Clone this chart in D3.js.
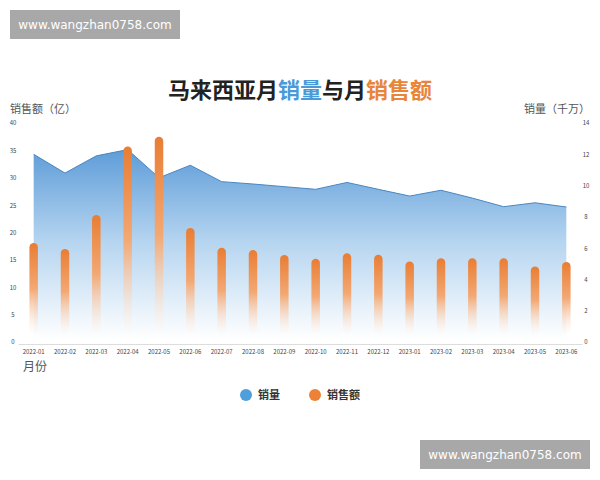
<!DOCTYPE html>
<html>
<head>
<meta charset="utf-8">
<script src="https://cdn.jsdelivr.net/npm/d3@7"></script>
<style>
  body { margin: 0; background: #fff; }
  text { font-family: "Noto Sans CJK SC", "Noto Sans", sans-serif; }
</style>
</head>
<body>
<div id="chart"></div>
<script>
// months on the x axis
const months = ["2022-01", "2022-02", "2022-03", "2022-04", "2022-05", "2022-06",
    "2022-07", "2022-08", "2022-09", "2022-10", "2022-11", "2022-12",
    "2023-01", "2023-02", "2023-03", "2023-04", "2023-05", "2023-06"];
// sales volume, 千万 (right axis)
const volume = [12.0, 10.8, 11.9, 12.3, 10.5, 11.3, 10.25, 10.1, 9.93, 9.76,
    10.2, 9.76, 9.33, 9.7, 9.2, 8.65, 8.9, 8.63];
// sales amount, 亿 (left axis)
const amount = [18.1, 17.0, 23.2, 35.7, 37.5, 20.8, 17.2, 16.8, 15.9, 15.2,
    16.2, 15.95, 14.7, 15.3, 15.3, 15.3, 13.8, 14.6];
const leftTicks = [0, 5, 10, 15, 20, 25, 30, 35, 40];
const rightTicks = [0, 2, 4, 6, 8, 10, 12, 14];

const width = 600, height = 480;
const plotTop = 123, plotBottom = 342;

let svg = d3.select("#chart")
    .append("svg")
    .attr("width", width)
    .attr("height", height);

let defs = svg.append("defs");

let areaGrad = defs.append("linearGradient")
    .attr("id", "areaGrad")
    .attr("gradientUnits", "userSpaceOnUse")
    .attr("x1", 0).attr("x2", 0)
    .attr("y1", 145).attr("y2", 340);
areaGrad.append("stop").attr("offset", 0).attr("stop-color", "#5a9ad7");
areaGrad.append("stop").attr("offset", 0.5).attr("stop-color", "#b6d5f0");
areaGrad.append("stop").attr("offset", 1).attr("stop-color", "#ffffff");

let barGrad = defs.append("linearGradient")
    .attr("id", "barGrad")
    .attr("x1", 0).attr("x2", 0)
    .attr("y1", 0).attr("y2", 1);
barGrad.append("stop").attr("offset", 0).attr("stop-color", "#e97d33");
barGrad.append("stop").attr("offset", 0.5).attr("stop-color", "#f3a873");
barGrad.append("stop").attr("offset", 1).attr("stop-color", "#fffaf6").attr("stop-opacity", 0.3);

let x = d3.scaleBand()
    .domain(months)
    .range([18, 582])
    .padding(0);

let yLeft = d3.scaleLinear()
    .domain([0, 40])
    .range([plotBottom, plotTop]);

let yRight = d3.scaleLinear()
    .domain([0, 14])
    .range([plotBottom, plotTop]);

let cx = d => x(d) + x.bandwidth() / 2;

// volume area
let area = d3.area()
    .x((d, i) => cx(months[i]))
    .y0(plotBottom)
    .y1(d => yRight(d));

svg.append("path")
    .datum(volume)
    .attr("d", area)
    .attr("fill", "url(#areaGrad)");

let line = d3.line()
    .x((d, i) => cx(months[i]))
    .y(d => yRight(d));

svg.append("path")
    .datum(volume)
    .attr("d", line)
    .attr("fill", "none")
    .attr("stroke", "#4a87c2")
    .attr("stroke-width", 1);

// amount bars
const barW = 8.5;
svg.append("g").selectAll("rect")
    .data(amount)
    .enter()
    .append("rect")
    .attr("x", (d, i) => cx(months[i]) - barW / 2)
    .attr("y", d => yLeft(d))
    .attr("width", barW)
    .attr("height", d => plotBottom - 8 - yLeft(d))
    .attr("rx", barW / 2)
    .attr("fill", "url(#barGrad)");

// axes
let xAxis = svg.append("g")
    .attr("transform", `translate(0, ${plotBottom + 2})`)
    .call(d3.axisBottom(x).tickSize(0).tickPadding(6));
xAxis.select(".domain").attr("stroke", "#dddddd");
xAxis.selectAll("text").style("font-size", "6px").attr("fill", "#444");

let leftAxis = svg.append("g")
    .attr("transform", "translate(18, 0)")
    .call(d3.axisLeft(yLeft).tickValues(leftTicks).tickSize(0).tickPadding(0));
leftAxis.select(".domain").remove();
leftAxis.selectAll("text").style("font-size", "6px").attr("fill", "#444")
    .attr("text-anchor", "middle").attr("x", -5);

let rightAxis = svg.append("g")
    .attr("transform", "translate(582, 0)")
    .call(d3.axisRight(yRight).tickValues(rightTicks).tickSize(0).tickPadding(0));
rightAxis.select(".domain").remove();
rightAxis.selectAll("text").style("font-size", "6px").attr("fill", "#444")
    .attr("text-anchor", "middle").attr("x", 4);

// axis titles
svg.append("text")
    .attr("x", 10).attr("y", 113)
    .style("font-size", "11px").attr("fill", "#555")
    .text("销售额（亿）");

svg.append("text")
    .attr("x", 590).attr("y", 113)
    .attr("text-anchor", "end")
    .style("font-size", "11px").attr("fill", "#555")
    .text("销量（千万）");

svg.append("text")
    .attr("x", 23).attr("y", 371)
    .style("font-size", "12px").attr("fill", "#555")
    .text("月份");

// title
let title = svg.append("text")
    .attr("x", 300).attr("y", 98)
    .attr("text-anchor", "middle")
    .style("font-size", "22px")
    .style("font-weight", "bold")
    .attr("fill", "#222");
title.append("tspan").text("马来西亚月");
title.append("tspan").attr("fill", "#4a9ad8").text("销量");
title.append("tspan").text("与月");
title.append("tspan").attr("fill", "#e8853a").text("销售额");

// legend
const legendItems = [
    {name: "销量", color: "#4f9fdc", x: 246},
    {name: "销售额", color: "#eb8236", x: 315}
];
let legend = svg.append("g").selectAll("g")
    .data(legendItems)
    .enter()
    .append("g")
    .attr("transform", d => `translate(${d.x}, 395)`);
legend.append("circle").attr("r", 6).attr("fill", d => d.color);
legend.append("text")
    .attr("x", 12).attr("y", 4)
    .style("font-size", "11px").style("font-weight", "bold")
    .attr("fill", "#333")
    .text(d => d.name);

// watermarks
const marks = [{x: 10, y: 10}, {x: 420, y: 440}];
let wm = svg.append("g").selectAll("g")
    .data(marks)
    .enter()
    .append("g")
    .attr("transform", d => `translate(${d.x}, ${d.y})`);
wm.append("rect").attr("width", 170).attr("height", 29).attr("fill", "#a8a8a8");
wm.append("text")
    .attr("x", 85).attr("y", 19)
    .attr("text-anchor", "middle")
    .style("font-family", "'DejaVu Sans', sans-serif")
    .style("font-size", "12px")
    .attr("fill", "#fff")
    .text("www.wangzhan0758.com");
</script>
</body>
</html>
